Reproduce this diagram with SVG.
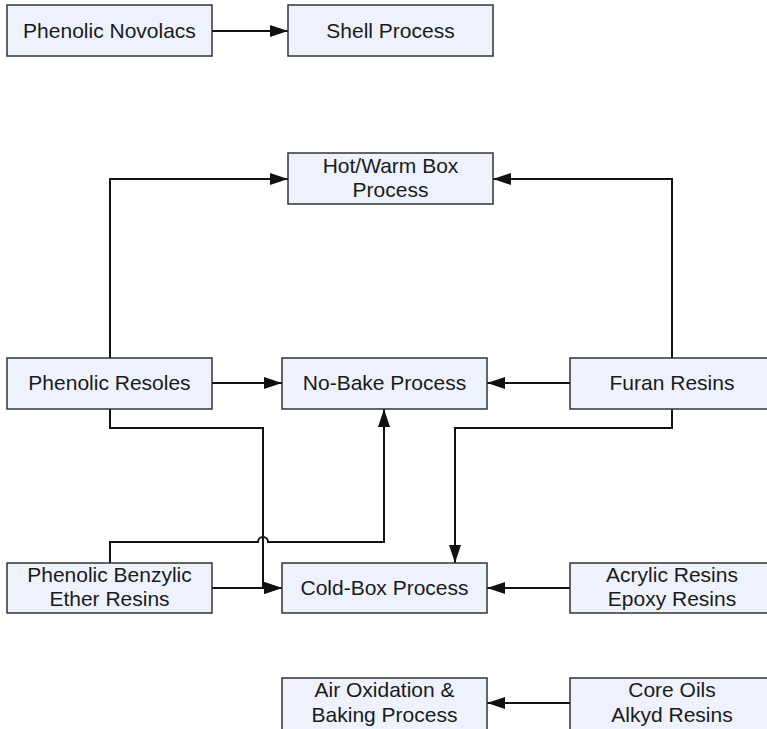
<svg xmlns="http://www.w3.org/2000/svg" width="767" height="729" viewBox="0 0 767 729">
  <style>
    .box { fill: #eef2fc; stroke: #333333; stroke-width: 1.5; }
    .lbl { font-family: "Liberation Sans", Arial, Helvetica, sans-serif; font-size: 21px; fill: #1a1a1a; text-anchor: middle; }
    .edge { fill: none; stroke: #111111; stroke-width: 2; }
  </style>
  <defs>
    <marker id="arrow" markerUnits="userSpaceOnUse" markerWidth="18" markerHeight="12" refX="18" refY="6" orient="auto">
      <path d="M0,0 L18,6 L0,12 Z" fill="#111111"/>
    </marker>
  </defs>
  <rect width="767" height="729" fill="#ffffff"/>

  <!-- connectors -->
  <g id="connectors">
    <path class="edge" d="M212,31 H288" marker-end="url(#arrow)"/>
    <path class="edge" d="M110,358 V179 H288" marker-end="url(#arrow)"/>
    <path class="edge" d="M672,358 V179 H493" marker-end="url(#arrow)"/>
    <path class="edge" d="M212,383 H282" marker-end="url(#arrow)"/>
    <path class="edge" d="M570,383 H487" marker-end="url(#arrow)"/>
    <path class="edge" d="M110,409 V428 H263 V588 H282" marker-end="url(#arrow)"/>
    <path class="edge" d="M212,588 H282" marker-end="url(#arrow)"/>
    <path class="edge" d="M110,563 V542 H258 A5,5 0 0 1 268,542 H384 V409" marker-end="url(#arrow)"/>
    <path class="edge" d="M672,409 V428 H455 V563" marker-end="url(#arrow)"/>
    <path class="edge" d="M570,588 H487" marker-end="url(#arrow)"/>
    <path class="edge" d="M570,703 H487" marker-end="url(#arrow)"/>
  </g>

  <!-- nodes -->
  <g id="phenolic-novolacs">
    <rect class="box" x="7" y="5" width="205" height="51"/>
    <text class="lbl" x="109.5" y="38">Phenolic Novolacs</text>
  </g>
  <g id="shell-process">
    <rect class="box" x="288" y="5" width="205" height="51"/>
    <text class="lbl" x="390.5" y="38">Shell Process</text>
  </g>
  <g id="hot-warm-box">
    <rect class="box" x="288" y="153" width="205" height="51"/>
    <text class="lbl" x="390.5" y="173">Hot/Warm Box</text>
    <text class="lbl" x="390.5" y="197">Process</text>
  </g>
  <g id="phenolic-resoles">
    <rect class="box" x="7" y="358" width="205" height="51"/>
    <text class="lbl" x="109.5" y="390">Phenolic Resoles</text>
  </g>
  <g id="no-bake">
    <rect class="box" x="282" y="358" width="205" height="51"/>
    <text class="lbl" x="384.5" y="390">No-Bake Process</text>
  </g>
  <g id="furan-resins">
    <rect class="box" x="570" y="358" width="205" height="51"/>
    <text class="lbl" x="672" y="390">Furan Resins</text>
  </g>
  <g id="phenolic-benzylic">
    <rect class="box" x="7" y="563" width="205" height="50"/>
    <text class="lbl" x="109.5" y="582">Phenolic Benzylic</text>
    <text class="lbl" x="109.5" y="606">Ether Resins</text>
  </g>
  <g id="cold-box">
    <rect class="box" x="282" y="563" width="205" height="50"/>
    <text class="lbl" x="384.5" y="595">Cold-Box Process</text>
  </g>
  <g id="acrylic-epoxy">
    <rect class="box" x="570" y="563" width="205" height="50"/>
    <text class="lbl" x="672" y="582">Acrylic Resins</text>
    <text class="lbl" x="672" y="606">Epoxy Resins</text>
  </g>
  <g id="air-oxidation">
    <rect class="box" x="282" y="678" width="205" height="54"/>
    <text class="lbl" x="384.5" y="697">Air Oxidation &amp;</text>
    <text class="lbl" x="384.5" y="722">Baking Process</text>
  </g>
  <g id="core-oils">
    <rect class="box" x="570" y="678" width="205" height="54"/>
    <text class="lbl" x="672" y="697">Core Oils</text>
    <text class="lbl" x="672" y="722">Alkyd Resins</text>
  </g>
</svg>
